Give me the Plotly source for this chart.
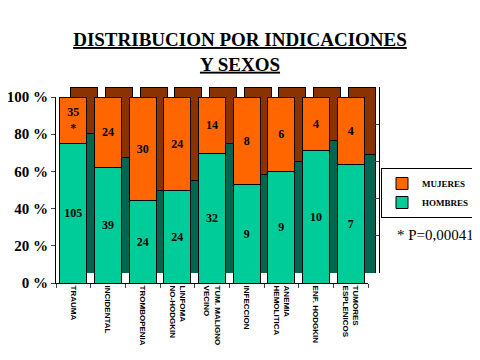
import plotly.graph_objects as go

categories = ["TRAUMA", "INCIDENTAL", "TROMBOPENIA", "LINFOMA<br>NO-HODGKIN",
              "TUM. MALIGNO<br>VECINO", "INFECCION", "ANEMIA<br>HEMOLITICA",
              "ENF. HODGKIN", "TUMORES<br>ESPLENICOS"]
hombres = [105, 39, 24, 24, 32, 9, 9, 10, 7]
mujeres = [35, 24, 30, 24, 14, 8, 6, 4, 4]
mujeres_text = ["35<br>*"] + [str(v) for v in mujeres[1:]]
yticks = [0, 20, 40, 60, 80, 100]

# page body has an 8px margin, so the figure is 472x352 and positions are shifted by -8
W, H = 472, 352
L, R, T, B = 48, 101, 79, 77
pw, ph = W - L - R, H - T - B
dx, dy = 11, 10

green, orange = "#00CC99", "#FF6600"
dgreen, dorange = "#006650", "#8A3300"
serif = "Liberation Serif"


def bold_lines(s):
    return "<br>".join(f"<b>{p}</b>" for p in s.split("<br>"))


fig = go.Figure()
# depth (side/top faces) drawn on a shifted back subplot
fig.add_bar(x=categories, y=hombres, marker=dict(color=dgreen, line=dict(color="black", width=1)),
            xaxis="x", yaxis="y", showlegend=False, hoverinfo="skip")
fig.add_bar(x=categories, y=mujeres, marker=dict(color=dorange, line=dict(color="black", width=1)),
            xaxis="x", yaxis="y", showlegend=False, hoverinfo="skip")
# front faces
fig.add_bar(x=categories, y=hombres, name="<b>HOMBRES</b>", text=[str(v) for v in hombres],
            marker=dict(color=green, line=dict(color="black", width=1)),
            xaxis="x2", yaxis="y2")
fig.add_bar(x=categories, y=mujeres, name="<b>MUJERES</b>", text=mujeres_text,
            marker=dict(color=orange, line=dict(color="black", width=1)),
            xaxis="x2", yaxis="y2")

fig.update_traces(selector=dict(xaxis="x2"), textposition="inside", insidetextanchor="middle",
                  textangle=0, constraintext="none",
                  textfont=dict(family=serif, size=12, color="black"), texttemplate="<b>%{text}</b>")

fig.update_layout(
    width=W, height=H, margin=dict(l=L, r=R, t=T, b=B, autoexpand=False),
    paper_bgcolor="white", plot_bgcolor="rgba(0,0,0,0)",
    barmode="stack", barnorm="percent", bargap=0.23,
    title=dict(text="<b><u>DISTRIBUCION POR INDICACIONES</u></b><br><b><u>Y SEXOS</u></b>",
               x=232 / W, xref="container", xanchor="center", y=1 - 38 / H, yanchor="top",
               font=dict(family=serif, size=19, color="black")),
    xaxis=dict(domain=[dx / pw, 1], range=[-0.5, 8.5], visible=False, automargin=False),
    yaxis=dict(domain=[dy / ph, 1], range=[0, 100], side="right", anchor="x", automargin=False,
               showline=True, linecolor="black", linewidth=1, ticks="inside", ticklen=5,
               tickvals=yticks, showticklabels=False, showgrid=False, zeroline=False),
    xaxis2=dict(domain=[0, 1 - dx / pw], range=[-0.5, 8.5], anchor="y2", automargin=False,
                showline=True, linecolor="black", linewidth=1, ticks="outside", ticklen=4,
                tickson="boundaries", tickangle=90, showgrid=False,
                tickvals=categories, ticktext=[bold_lines(c) for c in categories],
                tickfont=dict(family="Liberation Sans", size=8, color="black")),
    yaxis2=dict(domain=[0, 1 - dy / ph], range=[0, 100], anchor="x2", automargin=False,
                showline=True, linecolor="black", linewidth=1, ticks="outside", ticklen=4,
                tickvals=yticks, ticktext=[f"<b>{v} %</b>" for v in yticks], showgrid=False,
                zeroline=False, tickfont=dict(family=serif, size=15, color="black")),
    legend=dict(x=(373 - L) / pw, y=(H - B - 160) / ph, xanchor="left", yanchor="top",
                traceorder="reversed", bordercolor="black", borderwidth=1, bgcolor="white",
                font=dict(family=serif, size=9, color="black"), itemwidth=30,
                tracegroupgap=0),
    annotations=[dict(text="* P=0,00041", x=(427 - L) / pw, y=(H - B - 227) / ph,
                      xref="paper", yref="paper", xanchor="center", yanchor="middle",
                      showarrow=False,
                      font=dict(family=serif, size=15, color="black"))],
)

fig.write_html("out.html")
